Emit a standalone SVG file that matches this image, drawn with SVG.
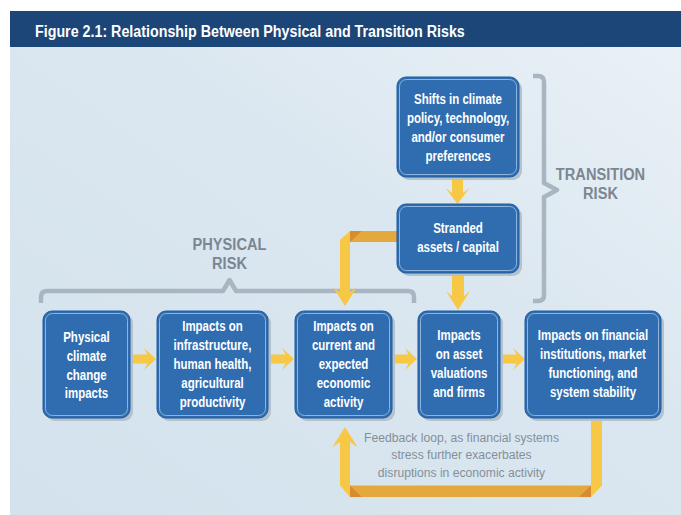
<svg xmlns="http://www.w3.org/2000/svg" xmlns:xlink="http://www.w3.org/1999/xlink" width="681" height="515" viewBox="0 0 681 515">
  <defs>
    <linearGradient id="panelGrad" x1="0" y1="1" x2="1" y2="0">
      <stop offset="0" stop-color="#d3e2ed"/>
      <stop offset="0.6" stop-color="#dbe7f0"/>
      <stop offset="1" stop-color="#eaf1f6"/>
    </linearGradient>
    <!-- chevron-backed block arrow pointing right, origin at stem start / centre line -->
    <path id="arrowRight" d="M0,-4.5 H15.5 L12,-11 L24,0 L12,11 L15.5,4.5 H0 Z"/>
    <style>
      .shadow { fill: #b4c2cd; }
      .box { fill: #2f6db0; stroke: #1f5b9e; stroke-width: 1; }
      .inner { fill: none; stroke: #8db4de; stroke-width: 1; }
      .bt { font-family: "Liberation Sans", Arial, sans-serif; font-weight: bold; font-size: 14px; fill: #ffffff; text-anchor: middle; }
      .label { font-family: "Liberation Sans", Arial, sans-serif; font-weight: bold; font-size: 17px; fill: #7b8692; text-anchor: middle; }
      .note { font-family: "Liberation Sans", Arial, sans-serif; font-size: 13.5px; fill: #858f9a; text-anchor: middle; }
      .brace { fill: none; stroke: #a9b6c1; stroke-width: 4.5; stroke-linejoin: round; stroke-linecap: butt; }
      .yel { fill: #f6c845; }
      .org { fill: #e4a93c; }
      .dark { fill: #d88c2f; }
    </style>
  </defs>

  <!-- background panel and title bar -->
  <rect x="10" y="47" width="671" height="468" fill="url(#panelGrad)"/>
  <rect x="10" y="11" width="671" height="36" fill="#1b4677"/>
  <text transform="translate(35 36.5) scale(0.84 1)" font-family="'Liberation Sans', Arial, sans-serif" font-weight="bold" font-size="17" fill="#ffffff">Figure 2.1: Relationship Between Physical and Transition Risks</text>

  <!-- risk braces and labels -->
  <g id="physical-risk">
    <path class="brace" d="M41,303 V297 Q41,291 47,291 H223 L229.5,280 L236,291 H408 Q414,291 414,297 V303"/>
    <g transform="translate(229.5 0) scale(0.86 1)">
      <text class="label" x="0" y="250.5">PHYSICAL</text>
      <text class="label" x="0" y="269.5">RISK</text>
    </g>
  </g>
  <g id="transition-risk">
    <path class="brace" d="M533,76 H538 Q544,76 544,82 V183 L557,190 L544,197 V295 Q544,301 538,301 H533"/>
    <g transform="translate(600.5 0) scale(0.86 1)">
      <text class="label" x="0" y="180.5">TRANSITION</text>
      <text class="label" x="0" y="199.5">RISK</text>
    </g>
  </g>

  <!-- connectors -->
  <g id="connectors">
    <use xlink:href="#arrowRight" class="yel" transform="translate(132 359)"/>
    <use xlink:href="#arrowRight" class="yel" transform="translate(270 359)"/>
    <use xlink:href="#arrowRight" class="yel" transform="translate(393 359)"/>
    <use xlink:href="#arrowRight" class="yel" transform="translate(501 359)"/>
    <!-- shifts -> stranded -->
    <polygon class="yel" points="452,178 463,178 463,193 469.5,188 457.5,204 445.5,188 452,193"/>
    <!-- stranded -> asset valuations -->
    <polygon class="yel" points="452,275 464,275 464,296 470,291 458,310 446,291 452,296"/>
    <!-- stranded -> economic activity (folded ribbon) -->
    <rect class="org" x="350" y="231" width="48" height="11"/>
    <polygon class="dark" points="350,231 362,231 350,242"/>
    <polygon class="yel" points="340,240 350,231 350,292 357,287 345,306 333,287 340,292"/>
    <!-- feedback loop -->
    <rect class="org" x="350" y="485.5" width="241" height="11.5"/>
    <polygon class="dark" points="350,485.5 350,497 362,497"/>
    <polygon class="dark" points="591,485.5 591,497 579,497"/>
    <polygon class="yel" points="591,418 602,418 602,485.5 591,497"/>
    <polygon class="yel" points="350,497 340,485.5 340,442 332.5,447 345,427 357.5,447 350,442"/>
  </g>

  <!-- nodes -->
  <g id="shifts">
    <rect class="shadow" x="400" y="80" width="122" height="100" rx="9"/>
    <rect class="box" x="397" y="77" width="122" height="100" rx="9"/>
    <rect class="inner" x="399.5" y="79.5" width="117" height="95" rx="7"/>
    <g transform="translate(458 0) scale(0.82 1)">
      <text class="bt" x="0" y="104.5">Shifts in climate</text>
      <text class="bt" x="0" y="123.5">policy, technology,</text>
      <text class="bt" x="0" y="142.5">and/or consumer</text>
      <text class="bt" x="0" y="161.5">preferences</text>
    </g>
  </g>
  <g id="stranded">
    <rect class="shadow" x="400" y="207" width="122" height="69" rx="9"/>
    <rect class="box" x="397" y="204" width="122" height="69" rx="9"/>
    <rect class="inner" x="399.5" y="206.5" width="117" height="64" rx="7"/>
    <g transform="translate(458 0) scale(0.82 1)">
      <text class="bt" x="0" y="233.5">Stranded</text>
      <text class="bt" x="0" y="252.5">assets / capital</text>
    </g>
  </g>
  <g id="physical">
    <rect class="shadow" x="46" y="314" width="87" height="107" rx="9"/>
    <rect class="box" x="43" y="311" width="87" height="107" rx="9"/>
    <rect class="inner" x="45.5" y="313.5" width="82" height="102" rx="7"/>
    <g transform="translate(86.5 0) scale(0.82 1)">
      <text class="bt" x="0" y="342">Physical</text>
      <text class="bt" x="0" y="360.8">climate</text>
      <text class="bt" x="0" y="379.6">change</text>
      <text class="bt" x="0" y="398.4">impacts</text>
    </g>
  </g>
  <g id="infrastructure">
    <rect class="shadow" x="160" y="314" width="111" height="107" rx="9"/>
    <rect class="box" x="157" y="311" width="111" height="107" rx="9"/>
    <rect class="inner" x="159.5" y="313.5" width="106" height="102" rx="7"/>
    <g transform="translate(212.5 0) scale(0.82 1)">
      <text class="bt" x="0" y="331.5">Impacts on</text>
      <text class="bt" x="0" y="350.3">infrastructure,</text>
      <text class="bt" x="0" y="369.1">human health,</text>
      <text class="bt" x="0" y="387.9">agricultural</text>
      <text class="bt" x="0" y="406.7">productivity</text>
    </g>
  </g>
  <g id="economic">
    <rect class="shadow" x="298" y="314" width="97" height="107" rx="9"/>
    <rect class="box" x="295" y="311" width="97" height="107" rx="9"/>
    <rect class="inner" x="297.5" y="313.5" width="92" height="102" rx="7"/>
    <g transform="translate(343.5 0) scale(0.82 1)">
      <text class="bt" x="0" y="331.5">Impacts on</text>
      <text class="bt" x="0" y="350.3">current and</text>
      <text class="bt" x="0" y="369.1">expected</text>
      <text class="bt" x="0" y="387.9">economic</text>
      <text class="bt" x="0" y="406.7">activity</text>
    </g>
  </g>
  <g id="assets">
    <rect class="shadow" x="421" y="314" width="82" height="107" rx="9"/>
    <rect class="box" x="418" y="311" width="82" height="107" rx="9"/>
    <rect class="inner" x="420.5" y="313.5" width="77" height="102" rx="7"/>
    <g transform="translate(459 0) scale(0.82 1)">
      <text class="bt" x="0" y="340.5">Impacts</text>
      <text class="bt" x="0" y="359.3">on asset</text>
      <text class="bt" x="0" y="378.1">valuations</text>
      <text class="bt" x="0" y="396.9">and firms</text>
    </g>
  </g>
  <g id="financial">
    <rect class="shadow" x="528" y="314" width="136" height="107" rx="9"/>
    <rect class="box" x="525" y="311" width="136" height="107" rx="9"/>
    <rect class="inner" x="527.5" y="313.5" width="131" height="102" rx="7"/>
    <g transform="translate(593 0) scale(0.82 1)">
      <text class="bt" x="0" y="340.5">Impacts on financial</text>
      <text class="bt" x="0" y="359.3">institutions, market</text>
      <text class="bt" x="0" y="378.1">functioning, and</text>
      <text class="bt" x="0" y="396.9">system stability</text>
    </g>
  </g>

  <!-- feedback note -->
  <g id="feedback-note" transform="translate(461.5 0) scale(0.9 1)">
    <text class="note" x="0" y="442">Feedback loop, as financial systems</text>
    <text class="note" x="0" y="459.5">stress further exacerbates</text>
    <text class="note" x="0" y="477">disruptions in economic activity</text>
  </g>
</svg>
